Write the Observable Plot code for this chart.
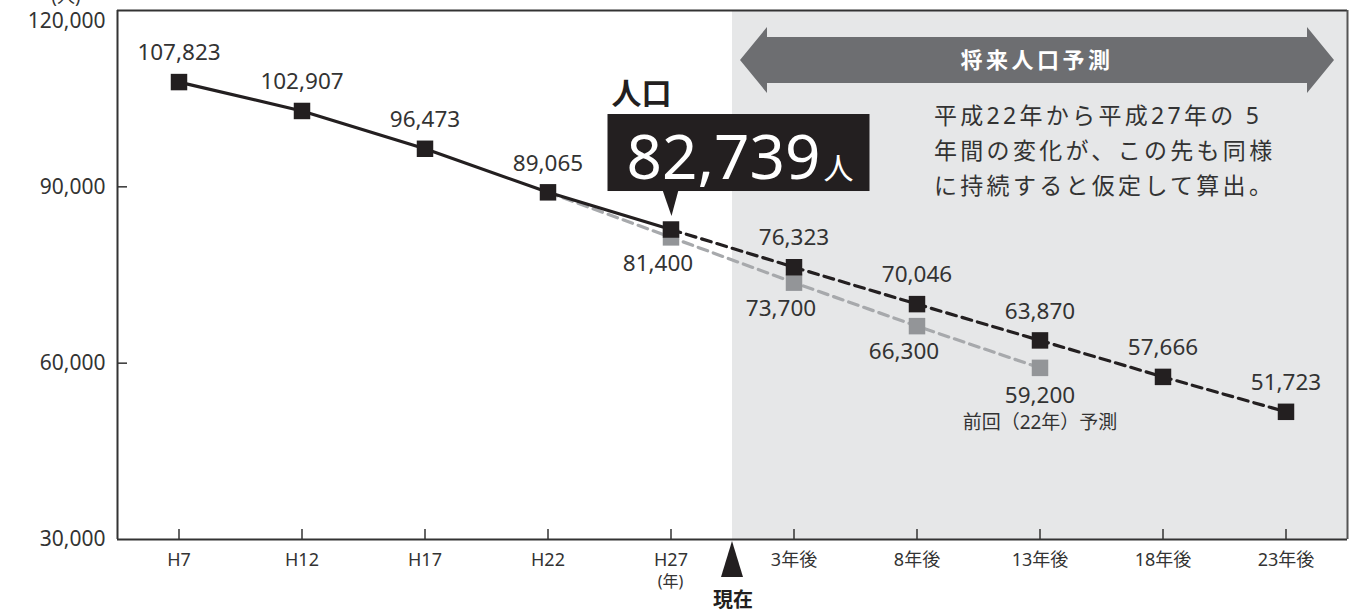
<!DOCTYPE html>
<html><head><meta charset="utf-8">
<script src="https://cdn.jsdelivr.net/npm/d3@7"></script>
<script src="https://cdn.jsdelivr.net/npm/@observablehq/plot@0.6"></script>
<style>body{margin:0;background:#fff;overflow:hidden}</style>
</head><body><div id="chart"></div>
<script>
const categories = ["H7","H12","H17","H22","H27","3年後","8年後","13年後","18年後","23年後"];
// actual census values: H7..H27 (index 0..4)
const actualValues = [107823,102907,96473,89065,82739];
// current projection: H27..23年後 (index 4..9)
const projectionValues = [82739,76323,70046,63870,57666,51723];
// previous (H22) projection: H22..13年後 (index 3..7)
const previousValues = [89065,81400,73700,66300,59200];
const yTickValues = [30000,60000,90000,120000];
const currentValue = 82739;

const FONT = "'Noto Sans','Noto Sans CJK JP',sans-serif";
const BLACK = "#231f20";
const TXT = "#333";
const actualRows = actualValues.map((v,k)=>({i:k, v}));
const projRows = projectionValues.map((v,k)=>({i:k+4, v}));
const prevRows = previousValues.map((v,k)=>({i:k+3, v}));
const fmt = d3.format(",");
const tickLen = 90000*10/529;

const plot = Plot.plot({
  width:1367, height:611,
  marginLeft:117, marginRight:20, marginTop:10, marginBottom:72,
  style:{fontFamily:FONT, background:"#fff", overflow:"visible"},
  x:{domain:[-0.5,9.5], label:null},
  y:{domain:[30000,120000], label:null},
  marks:[
    Plot.rect([{a:4.5,b:9.5}],{x1:"a",x2:"b",y1:()=>30000,y2:()=>120000,fill:"#e6e7e8"}),
    Plot.ruleX(d3.range(10),{y1:()=>30000,y2:()=>30000+tickLen,stroke:TXT,strokeWidth:1.5}),
    Plot.ruleY(yTickValues.slice(1,3),{x1:()=>-0.5,x2:()=>-0.5+10*10/1230,stroke:TXT,strokeWidth:1.5}),
    Plot.ruleY([120000],{x1:()=>-0.5,x2:()=>9.5,stroke:TXT,strokeWidth:2}),
    Plot.ruleY([30000],{x1:()=>-0.5,x2:()=>9.5,stroke:TXT,strokeWidth:2}),
    Plot.ruleX([-0.5],{y1:()=>30000,y2:()=>120000,stroke:TXT,strokeWidth:2}),
    Plot.ruleX([9.5],{y1:()=>30000,y2:()=>120000,stroke:"#555",strokeWidth:2}),
    Plot.axisX({ticks:d3.range(10),tickFormat:i=>categories[i],tickSize:0,tickPadding:14,fontSize:18,fill:TXT,label:null}),
    Plot.axisY({ticks:yTickValues.slice(0,3),tickFormat:fmt,tickSize:0,tickPadding:12,fontSize:21,fill:TXT,label:null}),
    Plot.axisY({ticks:yTickValues.slice(3),tickFormat:fmt,tickSize:0,tickPadding:12,fontSize:21,fill:TXT,label:null,dy:11}),
    Plot.line(prevRows,{x:"i",y:"v",stroke:"#a7a9ac",strokeWidth:3.2,strokeDasharray:"10,6"}),
    Plot.dot(prevRows.slice(1),{x:"i",y:"v",symbol:"square",r:9.3,fill:"#939598"}),
    Plot.line(actualRows,{x:"i",y:"v",stroke:BLACK,strokeWidth:3.2}),
    Plot.line(projRows,{x:"i",y:"v",stroke:BLACK,strokeWidth:3.2,strokeDasharray:"10,6"}),
    Plot.dot(actualRows.concat(projRows.slice(1)),{x:"i",y:"v",symbol:"square",r:9.3,fill:BLACK}),
    Plot.text(actualRows.slice(0,4).concat(projRows.slice(1)),{x:"i",y:"v",text:d=>fmt(d.v),dy:-29,fontSize:22.5,fill:TXT}),
    Plot.text(prevRows.slice(1,4),{x:"i",y:"v",text:d=>fmt(d.v),dx:-13,dy:26,fontSize:22.5,fill:TXT}),
    Plot.text(prevRows.slice(4),{x:"i",y:"v",text:d=>fmt(d.v),dy:28,fontSize:22.5,fill:TXT}),
    Plot.text(prevRows.slice(4),{x:"i",y:"v",text:()=>"前回（22年）予測",dy:55,fontSize:19,fill:TXT})
  ]
});
document.getElementById("chart").appendChild(plot);

const sx = plot.scale("x"), sy = plot.scale("y");
const svg = d3.select(plot);
const g = svg.append("g").attr("font-family",FONT).attr("text-anchor","start");

// (人) unit label
g.append("text").attr("x",66).attr("y",3).attr("text-anchor","middle").attr("font-size",18).attr("fill",TXT).text("(人)");
// (年)
g.append("text").attr("x",sx.apply(4)).attr("y",587).attr("text-anchor","middle").attr("font-size",16).attr("fill",TXT).text("(年)");

// 現在 marker
const nx = sx.apply(4.5), by = sy.apply(30000);
g.append("path").attr("d",`M${nx},${by+2}L${nx+11},${by+38}L${nx-11},${by+38}Z`).attr("fill",BLACK);
g.append("text").attr("x",nx+1).attr("y",by+68).attr("text-anchor","middle").attr("font-size",20).attr("font-weight","bold").attr("fill",BLACK).text("現在");

// banner double arrow
const L = sx.apply(4.5)+8, R = sx.apply(9.5)-13, cy = 60;
g.append("path").attr("d",
  `M${L},${cy}L${L+27},${cy-33}L${L+27},${cy-23}L${R-27},${cy-23}L${R-27},${cy-33}L${R},${cy}L${R-27},${cy+33}L${R-27},${cy+23}L${L+27},${cy+23}L${L+27},${cy+33}Z`)
  .attr("fill","#6d6e71");
g.append("text").attr("x",(L+R)/2).attr("y",cy).attr("dy","0.36em").attr("text-anchor","middle")
  .attr("font-size",22).attr("font-weight","bold").attr("letter-spacing","3.5px").attr("fill","#fff").text("将来人口予測");

// note
const noteLines = ["平成22年から平成27年の 5","年間の変化が、この先も同様","に持続すると仮定して算出。"];
noteLines.forEach((t,k)=>{
  g.append("text").attr("x",934).attr("y",116+k*35).attr("dy","0.36em").attr("font-size",23)
   .attr("letter-spacing","3.3px").attr("fill",TXT).text(t);
});

// callout
const px = sx.apply(4), py = sy.apply(currentValue);
const bx0 = px-63, bx1 = px+199, byTop = py-115, byBot = py-38;
g.append("rect").attr("x",bx0).attr("y",byTop).attr("width",bx1-bx0).attr("height",byBot-byTop).attr("fill",BLACK);
g.append("path").attr("d",`M${px-8},${byBot-1}L${px+8},${byBot-1}L${px+1},${py-13}Z`).attr("fill",BLACK);
const big = g.append("text").attr("x",px-44).attr("y",byBot-12).attr("fill","#fff");
big.append("tspan").attr("font-size",62).text(fmt(currentValue));
big.append("tspan").attr("font-size",30).attr("dx",3).text("人");
g.append("text").attr("x",bx0+4).attr("y",byTop-10).attr("font-size",30).attr("font-weight","bold").attr("fill",BLACK).text("人口");
</script></body></html>
